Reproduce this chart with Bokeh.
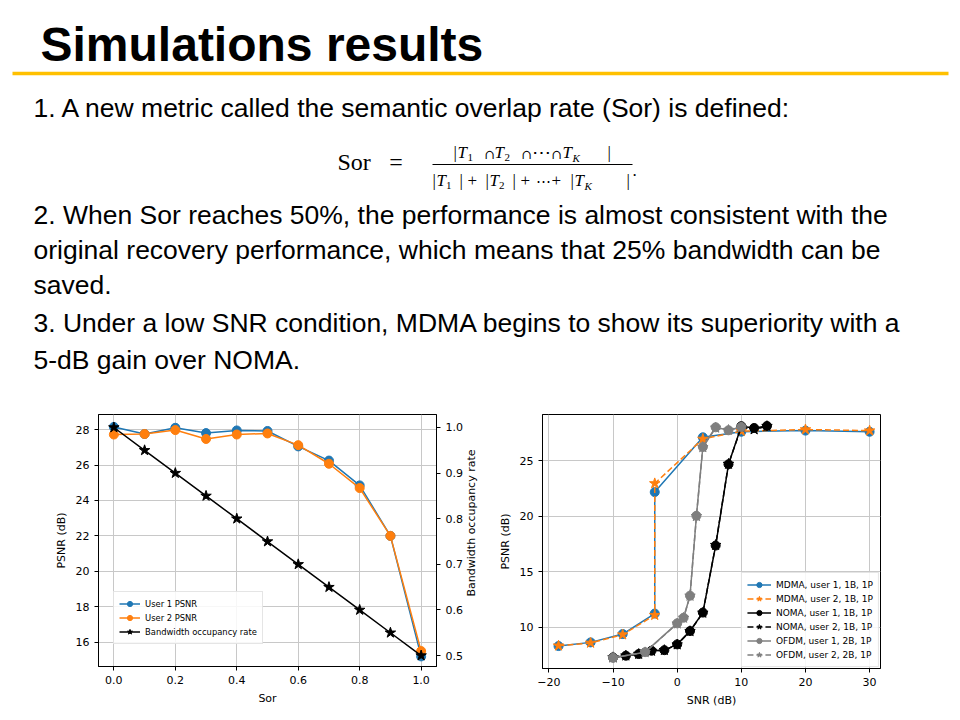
from bokeh.plotting import figure
from bokeh.models import (Range1d, LinearAxis, FixedTicker, NumeralTickFormatter,
                          CustomJSTickFormatter)
from bokeh.layouts import column, row
from bokeh.embed import file_html
from bokeh.resources import INLINE
from bokeh.core.properties import value

# ---------------- data ----------------
sor = [0.0, 0.1, 0.2, 0.3, 0.4, 0.5, 0.6, 0.7, 0.8, 0.9, 1.0]
user1_psnr = [28.15, 27.75, 28.1, 27.8, 27.95, 27.92, 27.05, 26.25, 24.85, 22.0, 15.2]
user2_psnr = [27.72, 27.75, 27.97, 27.47, 27.72, 27.78, 27.12, 26.07, 24.7, 22.0, 15.5]
bandwidth_rate = [1.0, 0.95, 0.9, 0.85, 0.8, 0.75, 0.7, 0.65, 0.6, 0.55, 0.5]

mdma_snr = [-18.5, -13.5, -8.5, -3.5, -3.5, 4, 10, 20, 30]
mdma_u1_psnr = [8.32, 8.65, 9.4, 11.24, 22.17, 27.1, 27.6, 27.7, 27.6]
mdma_u2_psnr = [8.35, 8.6, 9.35, 11.1, 22.95, 26.95, 27.65, 27.8, 27.7]
noma_snr = [-10, -8, -6, -4, -2, 0, 2, 4, 6, 8, 10, 12, 14]
noma_u1_psnr = [7.3, 7.45, 7.6, 7.9, 7.95, 8.47, 9.67, 11.33, 17.36, 24.67, 28.1, 27.94, 28.12]
noma_u2_psnr = [7.3, 7.45, 7.6, 7.88, 7.95, 8.45, 9.65, 11.3, 17.4, 24.7, 28.0, 27.8, 28.1]
ofdm_snr = [-10, -5, 0, 1, 2, 3, 4, 6, 8, 10]
ofdm_u1_psnr = [7.27, 7.77, 10.36, 10.87, 12.85, 20.04, 26.23, 28.0, 27.73, 28.03]
ofdm_u2_psnr = [7.27, 7.75, 10.33, 10.85, 12.83, 20.0, 26.2, 27.95, 27.75, 28.0]

left_xticks = [0.0, 0.2, 0.4, 0.6, 0.8, 1.0]
left_yticks = [16, 18, 20, 22, 24, 26, 28]
right_axis_ticks = [0.5, 0.6, 0.7, 0.8, 0.9, 1.0]
snr_ticks = [-20, -10, 0, 10, 20, 30]
psnr_ticks = [10, 15, 20, 25]

title_text = "Simulations results"
body_lines = [
    "1. A new metric called the semantic overlap rate (Sor) is defined:",
    "2. When Sor reaches 50%, the performance is almost consistent with the",
    "original recovery performance, which means that 25% bandwidth can be",
    "saved.",
    "3. Under a low SNR condition, MDMA begins to show its superiority with a",
    "5-dB gain over NOMA.",
]
right_axis_title = "Bandwidth occupancy rate"

# ---------------- slide (text) part ----------------
W, H_TOP = 960, 404
s = figure(width=W, height=H_TOP, x_range=Range1d(0, W), y_range=Range1d(H_TOP, 0),
           output_backend="svg", toolbar_location=None, min_border=0)
s.axis.visible = False
s.grid.visible = False
s.outline_line_color = None

SANS = value("Liberation Sans")
SERIF = value("Liberation Serif")
MATH = value("DejaVu Serif")
K_BASE = 0.34  # baseline compensation (fraction of font size)


def put(txt, x, base, size, italic=False, bold=False, font=SERIF, align="left"):
    st = "bold" if bold else ("italic" if italic else "normal")
    s.text(x=[x], y=[base - K_BASE * size], text=[txt], text_font=font,
           text_font_size=f"{size}px", text_font_style=st, text_align=align,
           text_color="black", text_baseline="alphabetic")


put(title_text, 40, 60, 48, bold=True, font=SANS)
s.segment(x0=[12], y0=[73], x1=[948], y1=[73], line_color="#FFC000", line_width=3.5)

body_base = [116.7, 223.3, 259, 293.3, 331.7, 368.3]
for line, b in zip(body_lines, body_base):
    put(line, 33, b, 26.5, font=SANS)

# formula  Sor = |T1 ∩ T2 ∩ ... ∩ TK| / (|T1| + |T2| + ... + |TK|).
put("Sor", 337, 170, 24)
put("=", 395.5, 170, 24, align="center")
s.segment(x0=[432], y0=[164], x1=[632], y1=[164], line_color="black", line_width=1.2)
nb, sb = 158, 161
put("|", 453, nb, 17)
put("T", 457, nb, 17, True)
put("1", 467, sb, 11)
put("\u2229", 484, nb, 13, font=MATH)
put("T", 494, nb, 17, True)
put("2", 504, sb, 11)
put("\u2229", 521, nb, 13, font=MATH)
put("\u22ef", 531, nb, 19, font=MATH)
put("\u2229", 551, nb, 13, font=MATH)
put("T", 562, nb, 17, True)
put("K", 572, sb, 11, True)
put("|", 607, nb, 17)
db, dsb = 186, 189
put("|", 432, db, 17)
put("T", 436, db, 17, True)
put("1", 445.5, dsb, 11)
put("|", 459, db, 17)
put("+", 467, db, 17)
put("|", 485, db, 17)
put("T", 489, db, 17, True)
put("2", 498.5, dsb, 11)
put("|", 512, db, 17)
put("+", 520, db, 17)
put("\u22ef", 535, db, 15, font=MATH)
put("+", 551, db, 17)
put("|", 570, db, 17)
put("T", 574, db, 17, True)
put("K", 584, dsb, 11, True)
put("|", 626, db, 17)
put(".", 632, 176, 17)

# ---------------- chart styling helper ----------------
CF = "DejaVu Sans"


def style(p):
    p.outline_line_color = "black"
    p.outline_line_width = 1
    for ax in p.axis:
        ax.major_label_text_font = CF
        ax.major_label_text_font_size = "11px"
        ax.major_label_text_color = "black"
        ax.axis_label_text_font = CF
        ax.axis_label_text_font_size = "11px"
        ax.axis_label_text_font_style = "normal"
        ax.axis_label_text_color = "black"
        ax.major_tick_in = 0
        ax.major_tick_out = 4
        ax.minor_tick_line_color = None
        ax.axis_line_color = "black"
        ax.major_tick_line_color = "black"
    p.grid.grid_line_color = "#c8c8c8"
    p.grid.grid_line_width = 1
    p.background_fill_color = "white"


ROWS_H = 720 - H_TOP
P1_RIGHT = 28     # border right of left chart (tick labels of secondary axis)
P2_LEFT = 53      # border left of right chart
SPACER_W = (541 - 98 - 338) - P1_RIGHT - P2_LEFT

# ---------------- left chart ----------------
p1 = figure(frame_width=338, frame_height=252,
            x_range=Range1d(-0.05, 1.05), y_range=Range1d(14.63, 28.85),
            output_backend="svg", toolbar_location=None,
            min_border_left=98, min_border_right=P1_RIGHT, min_border_top=10,
            min_border_bottom=ROWS_H - 10 - 252)
p1.extra_y_ranges = {"bw": Range1d(0.476, 1.0285)}
ax_r = LinearAxis(y_range_name="bw")
p1.add_layout(ax_r, "right")
p1.xaxis.axis_label = "Sor"
p1.yaxis[0].axis_label = "PSNR (dB)"
p1.xaxis.ticker = FixedTicker(ticks=left_xticks)
p1.xaxis.formatter = NumeralTickFormatter(format="0.0")
p1.yaxis[0].ticker = FixedTicker(ticks=left_yticks)
ax_r.ticker = FixedTicker(ticks=right_axis_ticks)
ax_r.formatter = NumeralTickFormatter(format="0.0")
style(p1)

BLUE, ORANGE, GRAY = "#1f77b4", "#ff7f0e", "#7f7f7f"
p1.line(sor, user1_psnr, line_color=BLUE, line_width=1.5, legend_label="User 1 PSNR")
p1.scatter(sor, user1_psnr, marker="circle", size=9, fill_color=BLUE, line_color=BLUE,
           legend_label="User 1 PSNR")
p1.line(sor, user2_psnr, line_color=ORANGE, line_width=1.5, legend_label="User 2 PSNR")
p1.scatter(sor, user2_psnr, marker="circle", size=9, fill_color=ORANGE, line_color=ORANGE,
           legend_label="User 2 PSNR")
p1.line(sor, bandwidth_rate, line_color="black", line_width=1.5, y_range_name="bw",
        legend_label="Bandwidth occupancy rate")
p1.scatter(sor, bandwidth_rate, marker="star", size=11, fill_color="black", line_color="black",
           y_range_name="bw", legend_label="Bandwidth occupancy rate")


def style_legend(lg):
    lg.label_text_font = CF
    lg.label_text_font_size = "8.4px"
    lg.label_text_color = "black"
    lg.glyph_width = 21
    lg.glyph_height = 13
    lg.label_height = 13
    lg.label_standoff = 5
    lg.spacing = 1
    lg.padding = 5
    lg.margin = 0
    lg.border_line_color = "#cccccc"
    lg.background_fill_alpha = 0.85


lg1 = p1.legend[0]
style_legend(lg1)
lg1.location = (15, 22)

# ---------------- strip holding the secondary-axis title ----------------
sp = figure(width=SPACER_W, height=ROWS_H, x_range=Range1d(0, SPACER_W),
            y_range=Range1d(ROWS_H, 0), output_backend="svg", toolbar_location=None,
            min_border=0)
sp.axis.visible = False
sp.grid.visible = False
sp.outline_line_color = None
sp.text(x=[6], y=[540 - H_TOP], text=[right_axis_title], angle=90, angle_units="deg",
        text_align="center", text_baseline="middle", text_font=value(CF),
        text_font_size="11px", text_color="black")

# ---------------- right chart ----------------
p2 = figure(frame_width=338, frame_height=254,
            x_range=Range1d(-21.0, 31.7), y_range=Range1d(6.3, 29.15),
            output_backend="svg", toolbar_location=None,
            min_border_left=P2_LEFT, min_border_right=W - 541 - 338, min_border_top=9,
            min_border_bottom=ROWS_H - 9 - 254)
p2.xaxis.axis_label = "SNR (dB)"
p2.yaxis.axis_label = "PSNR (dB)"
p2.xaxis.ticker = FixedTicker(ticks=snr_ticks)
p2.xaxis.formatter = CustomJSTickFormatter(
    code="return tick < 0 ? '\\u2212' + Math.abs(tick) : String(tick);")
p2.yaxis.ticker = FixedTicker(ticks=psnr_ticks)
style(p2)

series = [
    ("MDMA, user 1, 1B, 1P", mdma_snr, mdma_u1_psnr, BLUE, "solid", "circle", 9),
    ("MDMA, user 2, 1B, 1P", mdma_snr, mdma_u2_psnr, ORANGE, "6 3", "star", 11),
    ("NOMA, user 1, 1B, 1P", noma_snr, noma_u1_psnr, "black", "solid", "circle", 9),
    ("NOMA, user 2, 1B, 1P", noma_snr, noma_u2_psnr, "black", "6 3", "star", 11),
    ("OFDM, user 1, 2B, 1P", ofdm_snr, ofdm_u1_psnr, GRAY, "solid", "circle", 9),
    ("OFDM, user 2, 2B, 1P", ofdm_snr, ofdm_u2_psnr, GRAY, "6 3", "star", 11),
]
for lab, xs, ys, col, dash, mk, sz in series:
    p2.line(xs, ys, line_color=col, line_width=1.5, line_dash=dash, legend_label=lab)
    p2.scatter(xs, ys, marker=mk, size=sz, fill_color=col, line_color=col, legend_label=lab)

lg2 = p2.legend[0]
style_legend(lg2)
lg2.label_text_font_size = "9px"
lg2.glyph_width = 24
lg2.location = "bottom_right"
lg2.margin = 1

layout = column(s, row(p1, sp, p2, spacing=0), spacing=0)
open("out.html", "w").write(file_html(layout, INLINE))
